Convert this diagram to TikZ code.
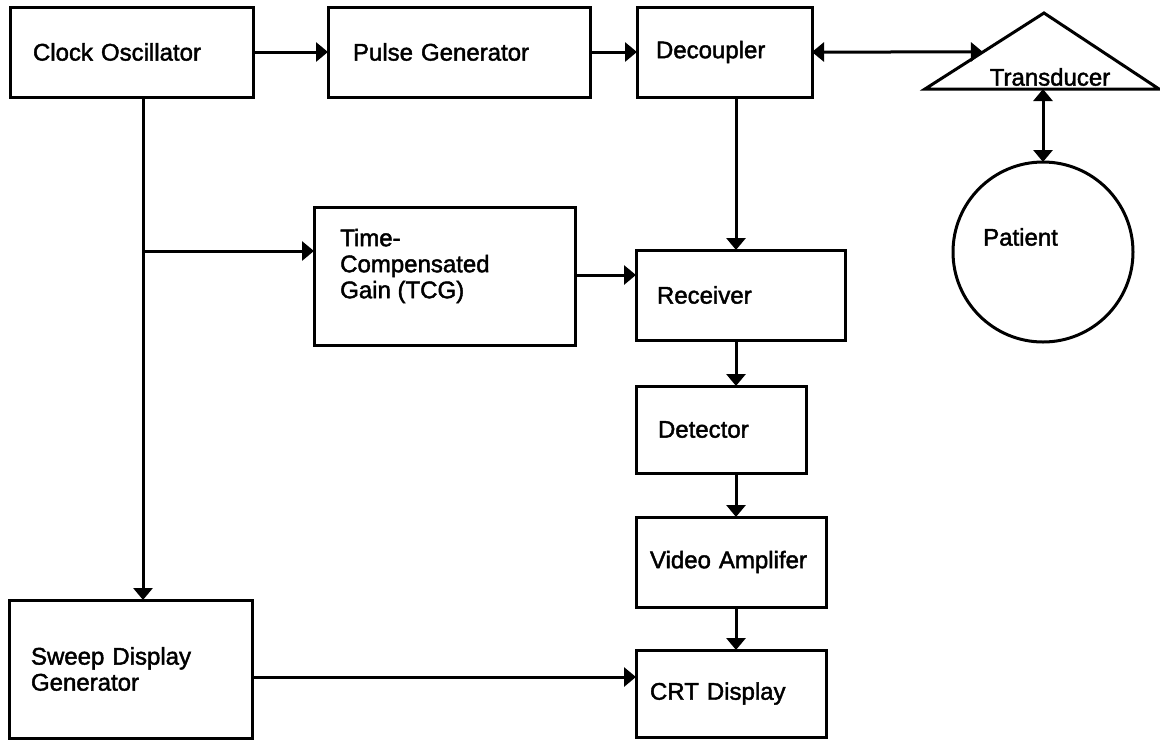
\documentclass[tikz,border=0pt]{standalone}
\usepackage{fontspec}
\setmainfont{Liberation Sans}[FakeBold=1.8]
\usetikzlibrary{arrows.meta,calc}

\tikzset{
  blk/.style={draw, line width=3pt, rectangle, anchor=north west, outer sep=0pt,
    align=left, font=\fontsize{24}{26}\selectfont, inner ysep=0pt},
  lbl/.style={font=\fontsize{24}{26}\selectfont, inner sep=0pt, align=left},
  link/.style={line width=3pt, -{Triangle[length=12pt,width=19pt]}},
  dlink/.style={line width=3pt, {Triangle[length=12pt,width=19pt]}-{Triangle[length=12pt,width=19pt]}},
}

\begin{document}
\begin{tikzpicture}[x=1pt,y=-1pt]
\useasboundingbox (0,0) rectangle (1160,740);

% signal chain blocks
\node[blk, minimum width=243, minimum height=90, inner xsep=23, text width=197] (clk) at (10,7) {Clock Oscillator};
\node[blk, minimum width=262, minimum height=90, inner xsep=25, text width=212] (pulse) at (328,7) {Pulse Generator};
\node[blk, minimum width=175, minimum height=90, inner xsep=19, text width=137] (dec) at (637,7) {Decoupler};
\node[blk, minimum width=261, minimum height=138] (tcg) at (314,207) {};
\node[lbl, anchor=west] (tcglbl) at (340,266) {Time-\\Compensated\\Gain (TCG)};
\node[blk, minimum width=209, minimum height=90, inner xsep=21, text width=167] (rec) at (636,250) {Receiver};
\node[blk, minimum width=170, minimum height=87, inner xsep=22, text width=126] (det) at (636,386) {Detector};
\node[blk, minimum width=190, minimum height=90, inner xsep=14, text width=162] (vid) at (636,517) {Video Amplifer};
\node[blk, minimum width=190, minimum height=87, inner xsep=14, text width=162] (crt) at (636,650) {CRT Display};
\node[blk, minimum width=243, minimum height=138, inner xsep=22, text width=199] (sweep) at (9,600) {Sweep Display\\Generator};

% transducer triangle
\coordinate (tL) at (925,89);
\coordinate (tA) at (1044,13);
\coordinate (tR) at (1159,89);
\draw[line width=3pt, line join=miter] (tL) -- (tA) -- (tR) -- cycle;
\node[lbl] (trans) at (1050,77) {Transducer};
\coordinate (tIn) at ($(tL)!0.487!(tA)$);

% patient
\node[draw, circle, line width=3pt, minimum size=180, outer sep=0pt] (pat) at (1043,252) {};
\node[lbl, anchor=west] (patlbl) at (983,237) {Patient};

% routing points
\coordinate (trunk) at (143,251);
\coordinate (mid) at (736,0);
\coordinate (sweepy) at (0,677);

% connectors
\draw[link] (clk) -- (pulse);
\draw[link] (pulse) -- (dec);
\draw[dlink] (dec.east) -- (tIn);
\draw[dlink] (pat.north |- tL) -- (pat.north);
\draw[link] (clk.south -| trunk) -- (sweep.north -| trunk);
\draw[link] (trunk) -- (tcg.west |- trunk);
\draw[link] (tcg.east |- 0,275) -- (rec.west |- 0,275);
\draw[link] (dec.south -| mid) -- (rec.north -| mid);
\draw[link] (rec.south -| mid) -- (det.north -| mid);
\draw[link] (det.south -| mid) -- (vid.north -| mid);
\draw[link] (vid.south -| mid) -- (crt.north -| mid);
\draw[link] (sweep.east |- sweepy) -- (crt.west |- sweepy);
\end{tikzpicture}
\end{document}
